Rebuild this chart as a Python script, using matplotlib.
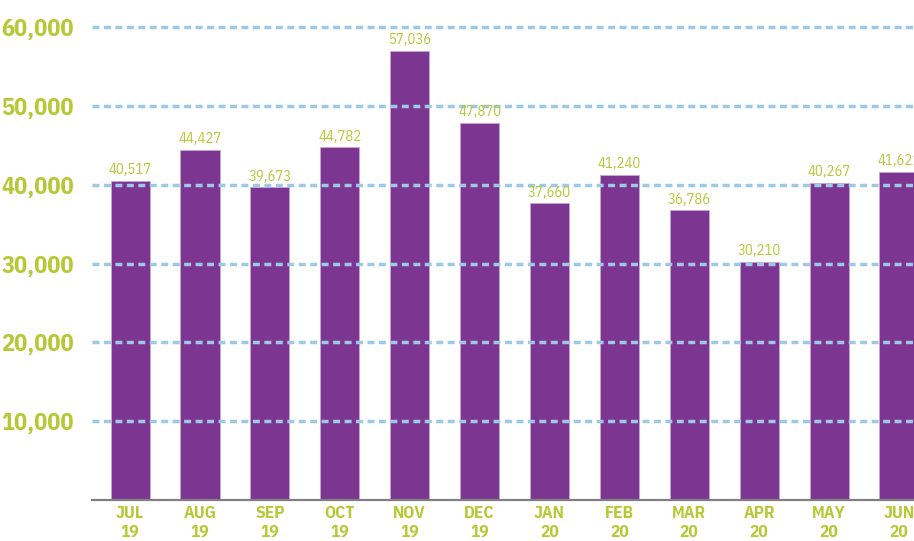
import matplotlib.pyplot as plt

months = ["JUL", "AUG", "SEP", "OCT", "NOV", "DEC", "JAN", "FEB", "MAR", "APR", "MAY", "JUN"]
years = ["19", "19", "19", "19", "19", "19", "20", "20", "20", "20", "20", "20"]
values = [40517, 44427, 39673, 44782, 57036, 47870, 37660, 41240, 36786, 30210, 40267, 41621]
yticks = [10000, 20000, 30000, 40000, 50000, 60000]

purple = '#7D3592'
green = '#B5C935'
blue = '#9DC9E6'
narrow = ['IBM Plex Sans Condensed', 'DejaVu Sans']

fig = plt.figure(figsize=(9.14, 5.41), dpi=100)
ax = fig.add_axes([92 / 914, 41 / 541, 1 - 92 / 914, 488.6 / 541])

x = list(range(len(months)))
ax.bar(x, values, width=0.56, color=purple, edgecolor='#C7A9D3', linewidth=0.6, zorder=2)

# dashed gridlines drawn over the bars
for t in yticks:
    ax.axhline(t, color=blue, lw=2.5, ls=(0, (2.0, 1.3)), zorder=3, clip_on=False)

for xi, v in zip(x, values):
    ax.text(xi, v + 450, f"{v:,}", ha='center', va='bottom', color=green,
            fontsize=10.5, family=narrow, fontweight=400, zorder=4)

ax.set_xlim(-0.545, 11.215)
ax.set_ylim(0, 62000)

ax.set_yticks(yticks)
ax.set_yticklabels([f"{t:,}" for t in yticks], family=narrow, fontsize=17.5,
                   fontweight='bold', color=green)
ax.set_xticks(x)
ax.set_xticklabels([f"{m}\n{y}" for m, y in zip(months, years)], family=narrow,
                   fontsize=12.5, fontweight='bold', color=green, linespacing=1.35)

ax.tick_params(axis='y', length=0, pad=13)
ax.tick_params(axis='x', length=0, pad=4)

for s in ['top', 'right', 'left']:
    ax.spines[s].set_visible(False)
ax.spines['bottom'].set_color('#808080')
ax.spines['bottom'].set_linewidth(1.6)

fig.savefig('out.png', dpi=100)
